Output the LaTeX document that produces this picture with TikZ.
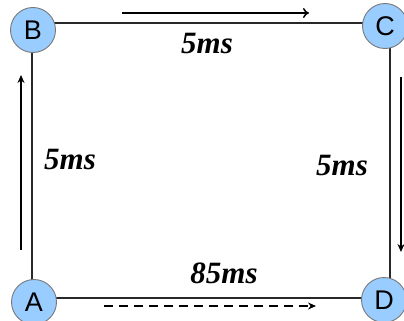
\documentclass[tikz,border=0pt]{standalone}
\usepackage{fontspec}
\setmainfont{Liberation Serif}
\newfontfamily\stationfont{Liberation Sans}
\usetikzlibrary{arrows.meta,backgrounds}
\definecolor{stationfill}{RGB}{153,204,255}
\definecolor{stationrim}{RGB}{120,120,120}
\definecolor{linkgray}{RGB}{40,40,40}
\tikzset{
  station/.style={circle,draw=stationrim,line width=0.9pt,fill=stationfill,
    minimum size=45pt,inner sep=0pt,font=\stationfont\fontsize{27}{27}\selectfont},
  link/.style={draw=linkgray,line width=1.8pt},
  delay/.style={font=\fontsize{31}{31}\selectfont\bfseries\itshape},
  flow/.style={line width=1.5pt,-{Stealth[length=8pt,width=7pt]}},
  flowopen/.style={line width=1.5pt,-{To[length=6pt,width=10pt]}},
  flowdash/.style={flow,dash pattern=on 9pt off 6pt}
}
\begin{document}
\begin{tikzpicture}[x=1pt,y=-1pt]
  \useasboundingbox (0,0) rectangle (404,321);

  % stations
  \node[station] (A) at (34,302) {A};
  \node[station] (B) at (33,30) {B};
  \node[station] (C) at (385,26) {C};
  \node[station] (D) at (384,300) {D};

  % square route behind the stations
  \begin{pgfonlayer}{background}
    \draw[link] ([yshift=7pt]B.center) -- ([yshift=3pt]C.center);
    \draw[link] ([xshift=5pt]C.center) -- ([xshift=6pt]D.center);
    \draw[link] ([yshift=4pt]A.center) -- ([yshift=2pt]D.center);
    \draw[link] ([xshift=-1pt]B.center) -- ([xshift=-2pt]A.center);
  \end{pgfonlayer}

  % direction of travel
  \coordinate (bcStart) at (122,13);
  \coordinate (bcEnd) at (309,13);
  \coordinate (cdStart) at (401,77);
  \coordinate (cdEnd) at (401,252);
  \coordinate (adStart) at (104,306);
  \coordinate (adEnd) at (316,306);
  \coordinate (abStart) at (21,250);
  \coordinate (abEnd) at (21,75);
  \draw[flowopen] (bcStart) -- (bcEnd);
  \draw[flow] (cdStart) -- (cdEnd);
  \draw[flowdash] (adStart) -- (adEnd);
  \draw[flow] (abStart) -- (abEnd);

  % delays
  \node[delay] (tBC) at (207,44) {5ms};
  \node[delay] (tAB) at (70,160) {5ms};
  \node[delay] (tCD) at (342,166) {5ms};
  \node[delay] (tAD) at (224,273) {85ms};
\end{tikzpicture}
\end{document}
